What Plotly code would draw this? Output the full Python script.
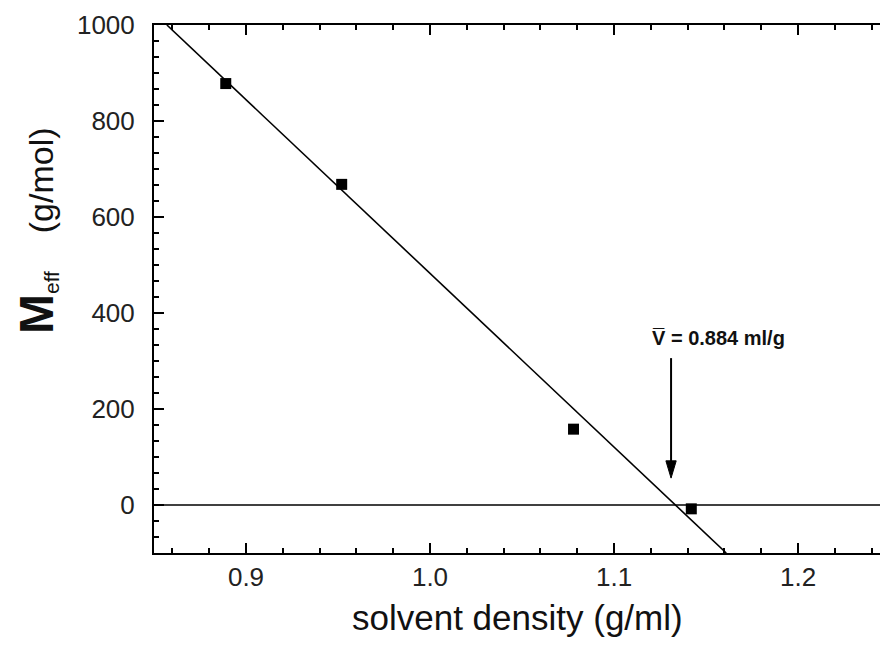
import plotly.graph_objects as go

# data
density = [0.889, 0.952, 1.078, 1.142]
m_eff = [878, 668, 158, -8]
fit_x = [0.857, 1.161]
fit_y = [1000, -100]
vbar_x = 1.131          # 1 / 0.884
arrow_tip_y = 56
arrow_tail_y = 306
x_ticks = [0.9, 1.0, 1.1, 1.2]
x_tick_text = ["0.9", "1.0", "1.1", "1.2"]
y_ticks = [0, 200, 400, 600, 800, 1000]
y_tick_text = ["0", "200", "400", "600", "800", "1000"]
x_range = [0.85, 1.2489]
y_range = [-100, 1000]

# arrowhead style (data units)
HEAD_LEN = 36
HEAD_HALF_W = 0.0028

FONT = "Liberation Sans, Arial, sans-serif"

fig = go.Figure()
fig.add_trace(go.Scatter(x=fit_x, y=fit_y, mode="lines",
                         line=dict(color="black", width=1.6), showlegend=False))
fig.add_trace(go.Scatter(x=density, y=m_eff, mode="markers",
                         marker=dict(symbol="square", size=11, color="black"),
                         showlegend=False))
# arrow shaft and head
fig.add_trace(go.Scatter(x=[vbar_x, vbar_x], y=[arrow_tail_y, arrow_tip_y + HEAD_LEN * 0.8],
                         mode="lines", line=dict(color="black", width=2),
                         showlegend=False, hoverinfo="skip"))
fig.add_trace(go.Scatter(x=[vbar_x - HEAD_HALF_W, vbar_x + HEAD_HALF_W, vbar_x, vbar_x - HEAD_HALF_W],
                         y=[arrow_tip_y + HEAD_LEN, arrow_tip_y + HEAD_LEN, arrow_tip_y,
                            arrow_tip_y + HEAD_LEN],
                         mode="lines", fill="toself", fillcolor="black",
                         line=dict(color="black", width=1), showlegend=False,
                         hoverinfo="skip"))
# invisible trace to hold the right-hand tick axis
fig.add_trace(go.Scatter(x=[x_range[0]], y=[0], yaxis="y2", mode="markers",
                         marker=dict(opacity=0), showlegend=False, hoverinfo="skip"))

fig.add_hline(y=0, line=dict(color="black", width=1.5))

fig.update_layout(
    width=880, height=645,
    margin=dict(l=146, r=0, t=17, b=100, autoexpand=False),
    paper_bgcolor="white", plot_bgcolor="white",
    font=dict(family=FONT, color="#111111"),
    xaxis=dict(range=x_range, tickvals=x_ticks, ticktext=x_tick_text,
               showgrid=False, zeroline=False, showline=True, linecolor="black",
               linewidth=2, mirror="ticks", ticks="inside", ticklen=10, tickwidth=2,
               tickcolor="black", tickfont=dict(size=26, family=FONT, color="#222"),
               ticklabelstandoff=0,
               minor=dict(dtick=0.02, tick0=0.9, ticks="inside", ticklen=5,
                          tickwidth=2, tickcolor="black")),
    yaxis=dict(range=y_range, tickvals=y_ticks, ticktext=y_tick_text,
               showgrid=False, zeroline=False, showline=True, linecolor="black",
               linewidth=2, mirror=False, ticks="inside", ticklen=10, tickwidth=2,
               tickcolor="black", tickfont=dict(size=26, family=FONT, color="#222"),
               ticklabelstandoff=12,
               minor=dict(dtick=200 / 6, tick0=0, ticks="inside", ticklen=5,
                          tickwidth=2, tickcolor="black")),
    yaxis2=dict(range=y_range, overlaying="y", side="right", showgrid=False,
                zeroline=False, showline=False, showticklabels=False,
                tickvals=y_ticks, ticks="inside", ticklen=7, tickwidth=2,
                tickcolor="black",
                minor=dict(dtick=200 / 6, tick0=0, ticks="inside", ticklen=3,
                           tickwidth=2, tickcolor="black")),
)

# y-axis title
fig.add_annotation(
    xref="paper", yref="paper", x=(36 - 154) / 734, y=(553 - 231) / 528,
    xanchor="center", yanchor="middle", textangle=-90, showarrow=False,
    text=("<span style='font-size:48px'><b>M</b></span>"
          "<span style='font-size:30px'><sub>eff</sub></span>"
          "<span style='font-size:34px'>    (g/mol)</span>"),
    font=dict(family=FONT, color="#111"))

# x-axis title
fig.add_annotation(
    xref="paper", yref="paper", x=(517 - 154) / 734, y=(553 - 617) / 528,
    xanchor="center", yanchor="middle", showarrow=False,
    text="solvent density (g/ml)", font=dict(family=FONT, size=35, color="#111"))

# v-bar label
fig.add_annotation(
    xref="paper", yref="paper", x=(718 - 154) / 734, y=(553 - 338) / 528,
    xanchor="center", yanchor="middle", showarrow=False,
    text="<b>V\u0305 = 0.884 ml/g</b>", font=dict(family=FONT, size=20, color="#111"))

fig.write_html("out.html")
